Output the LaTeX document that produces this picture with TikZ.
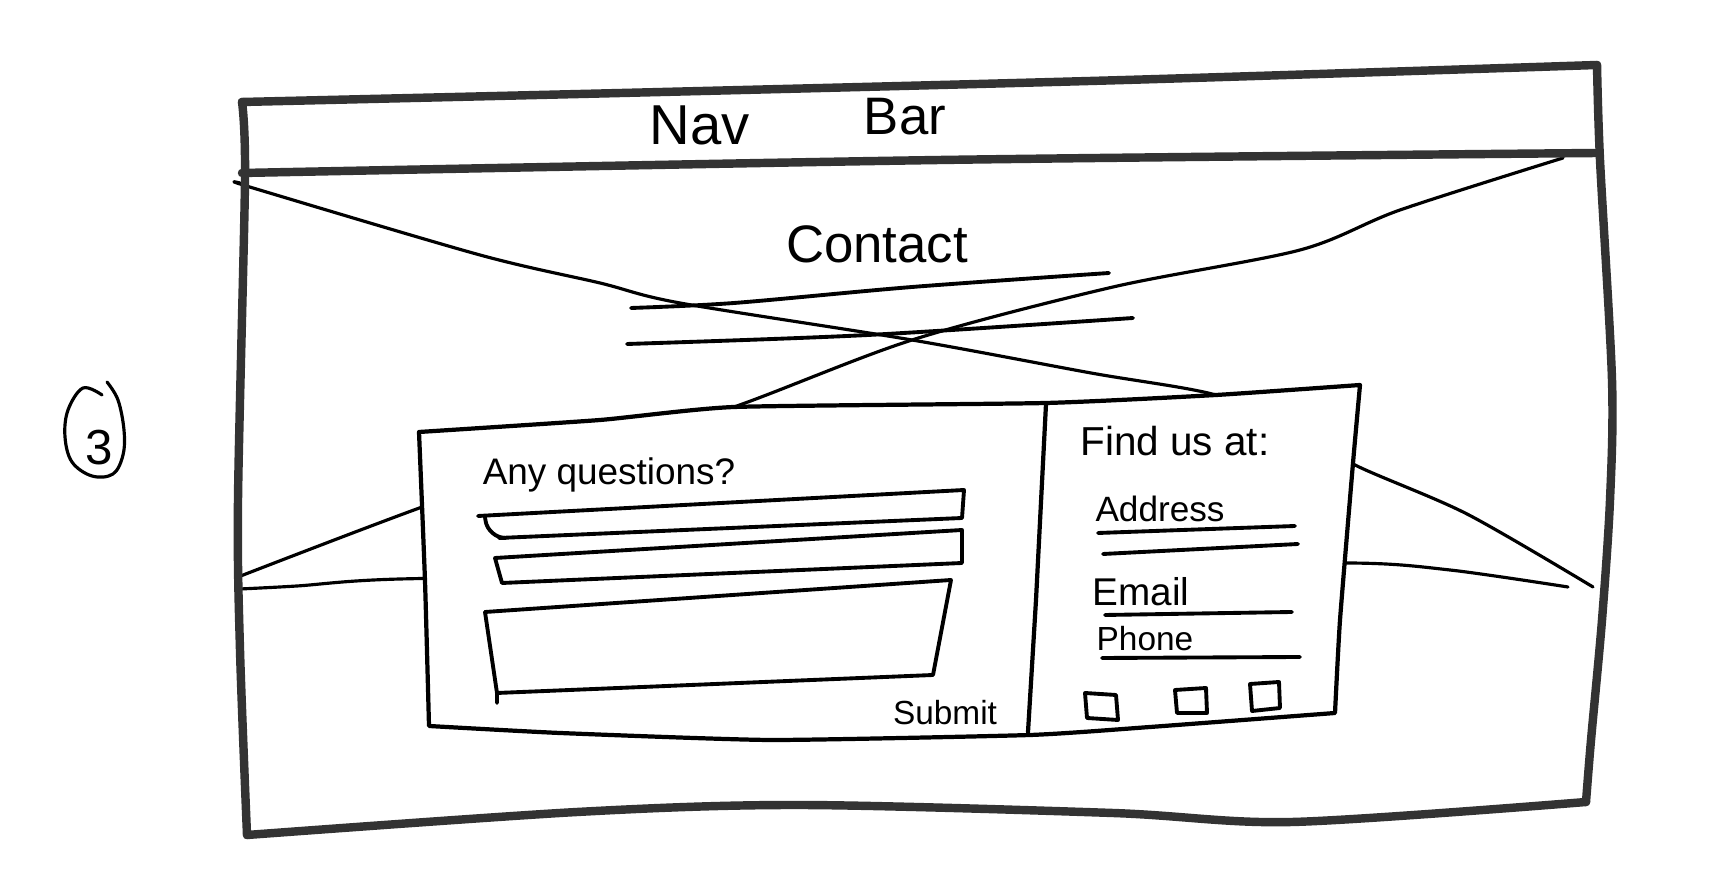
\documentclass[tikz,border=0pt]{standalone}
\usepackage{fontspec}
\setmainfont{Liberation Sans}
\begin{document}
\begin{tikzpicture}[x=0.01cm,y=-0.01cm,
  frameline/.style={line width=2.4pt, draw=black!80, line cap=round, line join=round},
  boxline/.style={line width=1.2pt, draw=black, line cap=round, line join=round},
  xline/.style={line width=0.9pt, draw=black, line cap=round, line join=round},
  penline/.style={line width=1.1pt, draw=black, line cap=round, line join=round},
  handtext/.style={inner sep=0pt, text=black}]
\useasboundingbox[fill=white] (0,0) rectangle (1727,883);

% crossed-out hero image placeholder
\draw[xline] plot[smooth, tension=0.5] coordinates {(240,183) (253,188) (480,255) (600,283) (680,303) (912,340) (1091,373) (1216,395) (1300,430) (1355,465) (1467,514) (1593,587)};
\draw[xline] plot[smooth, tension=0.5] coordinates {(1563,158) (1400,210) (1300,250) (1113,287) (912,340) (734,407) (580,455) (425,506) (238,577)};
\draw[xline] plot[smooth, tension=0.5] coordinates {(240,589) (297,586) (400,579) (700,575) (1100,568) (1348,563) (1450,570) (1568,587)};

% page frame
\draw[frameline] plot[smooth, tension=0.5] coordinates {(242,102) (662,92) (1125,80) (1597,65)};
\draw[frameline] plot[smooth, tension=0.5] coordinates {(1597,65) (1600,160) (1612,380) (1610,500) (1602,620) (1591,740) (1586,802)};
\draw[frameline] plot[smooth, tension=0.5] coordinates {(1586,802) (1292,822) (1113,813) (800,805) (577,812) (247,835)};
\draw[frameline] plot[smooth, tension=0.5] coordinates {(247,835) (240,650) (238,500) (245,180) (242,102)};
% nav bar divider
\draw[frameline] plot[smooth, tension=0.5] coordinates {(242,173) (940,160) (1597,153)};

\node[handtext, font=\fontsize{16}{19}\selectfont] (nav) at (700,125) {Nav};
\node[handtext, font=\fontsize{15}{18}\selectfont] (bar) at (905,117) {Bar};

% page title with two text lines
\node[handtext, font=\fontsize{15}{18}\selectfont] (contact) at (877,244) {Contact};
\draw[penline] plot[smooth, tension=0.5] coordinates {(631,308) (734,303) (912,287) (1109,273)};
\draw[penline] plot[smooth, tension=0.5] coordinates {(627,344) (868,335) (1133,318)};

% contact card
\draw[boxline, fill=white] plot[smooth, tension=0.3] coordinates {(419,432) (600,420) (734,407) (1046,403) (1216,395) (1360,385)}
  -- plot[smooth, tension=0.3] coordinates {(1360,385) (1353,463) (1340,620) (1335,713)}
  -- plot[smooth, tension=0.3] coordinates {(1335,713) (1150,727) (1030,735) (771,740) (560,733) (429,726)}
  -- plot[smooth, tension=0.3] coordinates {(429,726) (425,581) (419,432)};
\draw[boxline] (1046,404) -- (1036,600) -- (1028,732);

% form side
\node[handtext, font=\fontsize{10.5}{13}\selectfont] (ask) at (609,475) {Any questions?};
\draw[penline] (478,516) -- (964,490) -- (962,518) -- (499,538);
\draw[penline, rounded corners=5pt] (485,517) -- (488,538) -- (503,538);
\draw[penline] (495,558) -- (962,530) -- (962,563) -- (502,583) -- cycle;
\draw[penline] (485,612) -- (951,580) -- (933,675) -- (497,693) -- (497,703);
\draw[penline] (485,612) -- (497,693);
\node[handtext, font=\fontsize{9.5}{12}\selectfont] (submit) at (945,713) {Submit};

% details side
\node[handtext, font=\fontsize{11.5}{14}\selectfont] (find) at (1175,441) {Find us at:};
\node[handtext, font=\fontsize{10}{12}\selectfont] (address) at (1160,509) {Address};
\draw[penline] (1098,533) -- (1295,526);
\draw[penline] (1103,554) -- (1298,544);
\node[handtext, font=\fontsize{11}{13}\selectfont] (email) at (1141,592) {Email};
\draw[penline] (1105,615) -- (1292,612);
\node[handtext, font=\fontsize{9.5}{12}\selectfont] (phone) at (1145,639) {Phone};
\draw[penline] (1102,658) -- (1300,657);

% social icons
\draw[penline] (1085,693) -- (1116,695) -- (1118,720) -- (1087,718) -- cycle;
\draw[penline] (1175,690) -- (1206,688) -- (1207,713) -- (1177,713) -- cycle;
\draw[penline] (1250,684) -- (1279,682) -- (1280,708) -- (1252,711) -- cycle;

% page number
\draw[xline] plot[smooth, tension=0.6] coordinates {(102,395) (83,388) (68,410) (65,437) (72,462) (92,476) (113,474) (123,455) (124,430) (118,400) (107,382)};
\node[handtext, font=\fontsize{14}{16}\selectfont] (num) at (99,448) {3};
\end{tikzpicture}
\end{document}
